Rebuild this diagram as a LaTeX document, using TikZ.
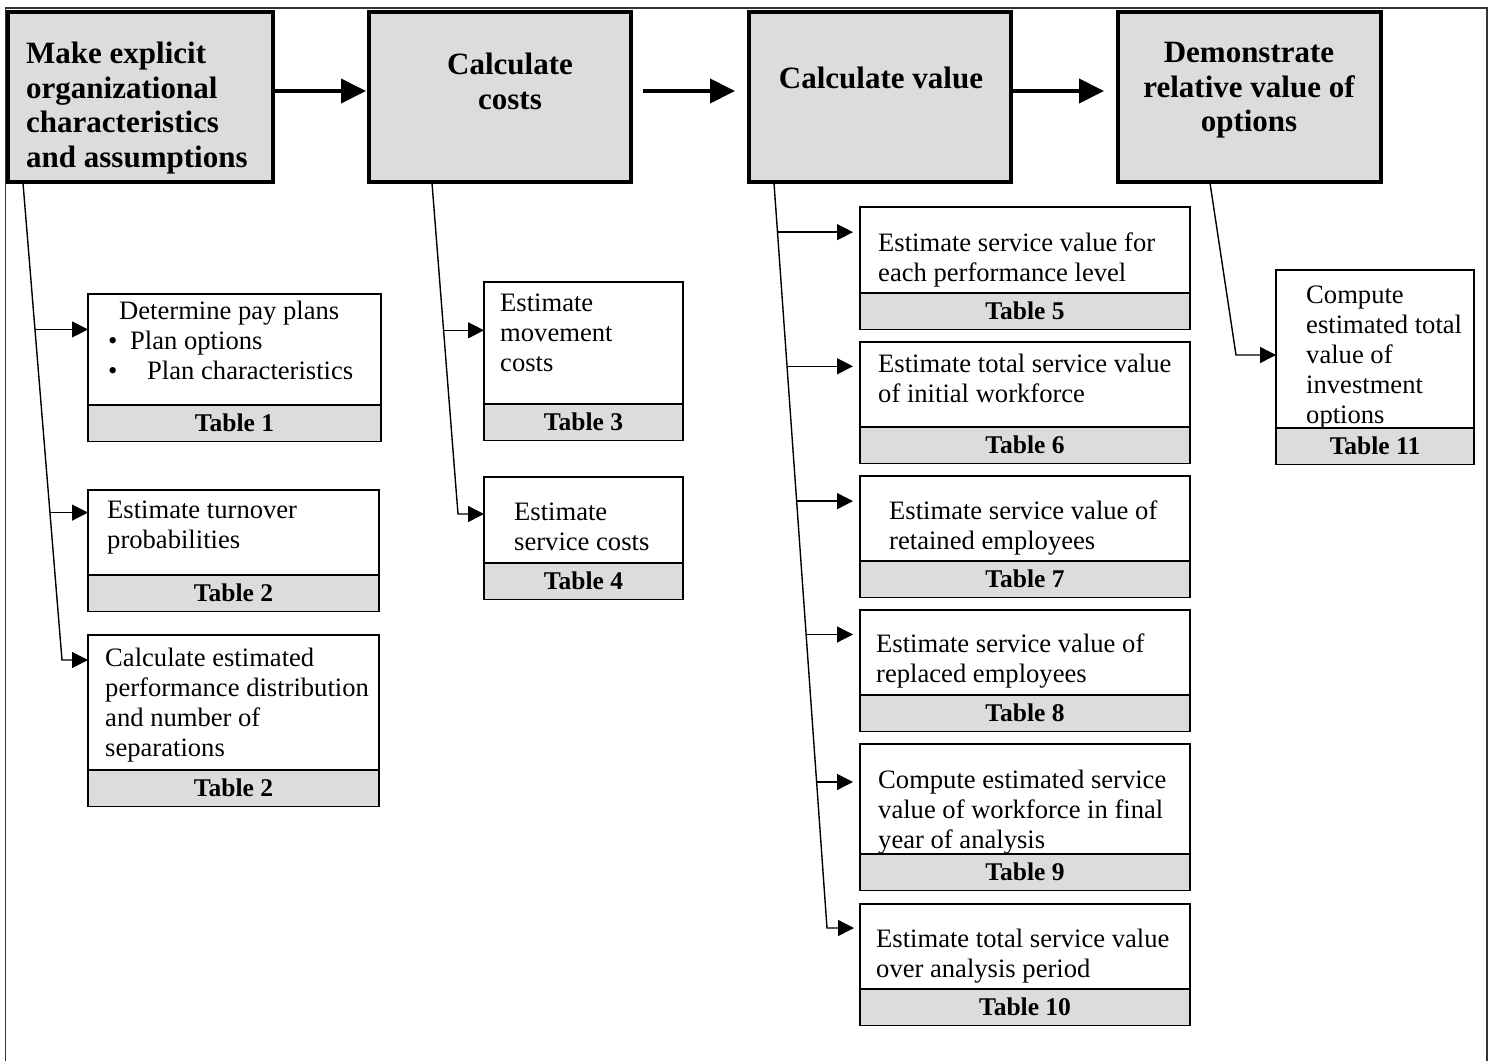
\documentclass[tikz,border=0pt]{standalone}
\usepackage{fontspec}
\setmainfont{Liberation Serif}
\usetikzlibrary{positioning, arrows.meta, calc}

\definecolor{boxgray}{RGB}{220,220,220}
\definecolor{framegray}{RGB}{51,51,51}
\newcommand{\headfont}{\fontsize{31}{34.5}\selectfont\bfseries}
\newcommand{\bodyfont}{\fontsize{26.6}{30}\selectfont}
\newcommand{\tablefont}{\fontsize{25.5}{29}\selectfont\bfseries}

\begin{document}
\begin{tikzpicture}[
    x=1pt, y=-1pt,
    mainbox/.style={rectangle, draw, line width=4pt, fill=boxgray, anchor=north west, minimum height=170, inner sep=0pt, outer sep=0pt},
    headtext/.style={font=\headfont, inner sep=0pt},
    body/.style={rectangle, draw, line width=1.7pt, fill=white, anchor=north west, inner sep=0pt, outer sep=0pt},
    tabstrip/.style={rectangle, draw, line width=1.7pt, fill=boxgray, minimum height=36.5, inner sep=0pt, outer sep=0pt, font=\tablefont},
    bodytext/.style={font=\bodyfont, anchor=north west, align=left, inner sep=0pt},
    bigarrow/.style={-{Triangle[length=25pt, width=24pt]}, line width=4pt},
    branch/.style={-{Triangle[length=16pt, width=16pt]}, line width=1.4pt},
    frame/.style={draw=framegray, line width=1.8pt}
]
\useasboundingbox (0,0) rectangle (1489,1061);

% Open frame round the page
\draw[frame] (5.5,1061) -- (5.5,8) -- (1487,8) -- (1487,1061);

% The four main steps
\node[mainbox, minimum width=265] (make) at (8,12) {};
\node[mainbox, minimum width=262] (costs) at (369,12) {};
\node[mainbox, minimum width=262] (value) at (749,12) {};
\node[mainbox, minimum width=263] (options) at (1118,12) {};

\node[headtext, anchor=north west, align=left] (make-text) at (26,42) {Make explicit\\organizational\\characteristics\\and assumptions};
\node[headtext, anchor=north, align=center] (costs-text) at (510,53) {Calculate\\costs};
\node[headtext, anchor=north] (value-text) at (881,67) {Calculate value};
\node[headtext, anchor=north, align=center] (options-text) at (1249,42) {Demonstrate\\relative value of\\options};

\draw[bigarrow, shorten >=3pt] ([yshift=6pt]make.east) -- ([yshift=6pt]costs.west);
\draw[bigarrow, shorten <=12pt, shorten >=14pt] ([yshift=6pt]costs.east) -- ([yshift=6pt]value.west);
\draw[bigarrow, shorten <=2pt, shorten >=14pt] ([yshift=6pt]value.east) -- ([yshift=6pt]options.west);

% Sub steps with their tables
\foreach \n/\x/\y/\w/\h/\tx/\ty/\txt/\tbl in {
    pay/88/294/293/111/108/301/{\hspace*{11pt}Determine pay plans\\\textbullet\hspace{12.7pt}Plan options\\\textbullet\hspace{29.7pt}Plan characteristics}/1,
    turn/88/490/291/85/107/501/{Estimate turnover\\probabilities}/2,
    perf/88/635/291/135/105/648/{Calculate estimated\\performance distribution\\and number of\\separations}/2,
    move/484/282/199/122/500/294/{Estimate\\movement\\costs}/3,
    serv/484/477/199/86/514/503/{Estimate\\service costs}/4,
    level/860/207/330/86/878/233/{Estimate service value for\\each performance level}/5,
    init/860/342/330/85/878/354/{Estimate total service value\\of initial workforce}/6,
    kept/860/476/330/85/889/501/{Estimate service value of\\retained employees}/7,
    repl/860/610/330/85/876/634/{Estimate service value of\\replaced employees}/8,
    final/860/744/330/110/878/770/{Compute estimated service\\value of workforce in final\\year of analysis}/9,
    total/860/904/330/85/876/929/{Estimate total service value\\over analysis period}/10,
    invest/1276/270/198/158/1306/286/{\fontsize{26.6}{28.3}\selectfont Compute\\estimated total\\value of\\investment\\options}/11%
}{
    \node[body, minimum width=\w, minimum height=\h] (\n) at (\x,\y) {};
    \node[tabstrip, minimum width=\w, below=0pt of \n.south] (\n-tab) {Table \tbl};
    \node[bodytext] (\n-text) at (\tx,\ty) {\txt};
}

% Branch lines under each main step
\coordinate (make-root) at (23,183);
\coordinate (make-end) at (62,660);
\draw[branch] (make-root) -- (make-end) -- (make-end -| perf.west);
\foreach \f/\dst in {0.307/pay, 0.691/turn}{
    \draw[branch] ($(make-root)!\f!(make-end)$) coordinate (hook) -- (hook -| \dst.west);
}

\coordinate (costs-root) at (432,183);
\coordinate (costs-end) at (458,514);
\draw[branch] (costs-root) -- (costs-end) -- (costs-end -| serv.west);
\draw[branch] ($(costs-root)!0.445!(costs-end)$) coordinate (hook) -- (hook -| move.west);

\coordinate (value-root) at (774,183);
\coordinate (value-end) at (827,928);
\draw[branch, shorten >=6pt] (value-root) -- (value-end) -- (value-end -| total.west);
\foreach \f/\dst in {0.066/level, 0.246/init, 0.427/kept, 0.606/repl, 0.804/final}{
    \draw[branch, shorten >=7pt] ($(value-root)!\f!(value-end)$) coordinate (hook) -- (hook -| \dst.west);
}

\coordinate (options-root) at (1210,183);
\coordinate (options-end) at (1236,355);
\draw[branch] (options-root) -- (options-end) -- (options-end -| invest.west);

\end{tikzpicture}
\end{document}
